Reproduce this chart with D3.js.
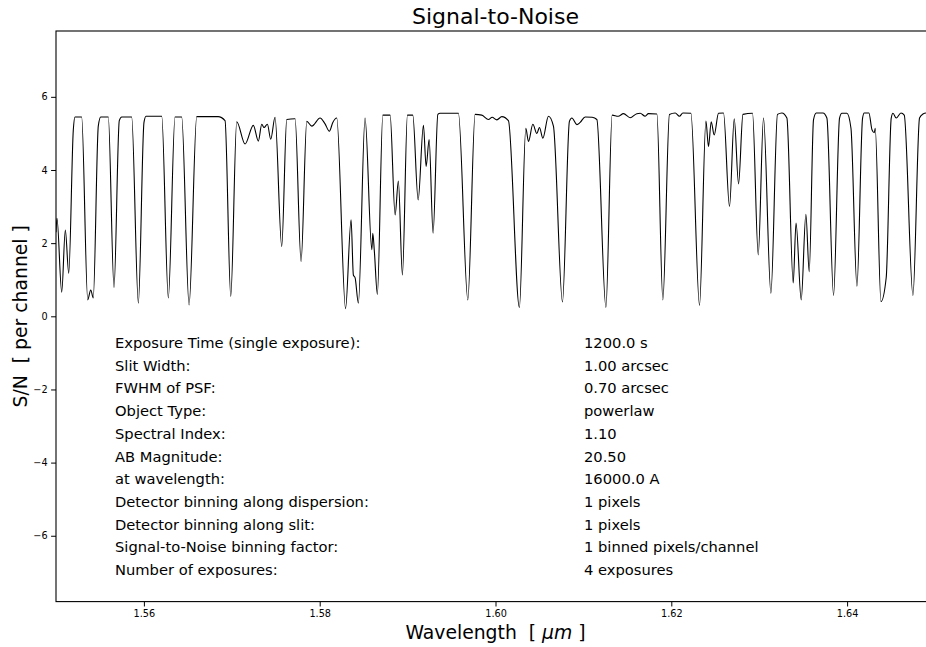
<!DOCTYPE html>
<html>
<head>
<meta charset="utf-8">
<script src="https://cdn.jsdelivr.net/npm/d3@7"></script>
<style>
  html, body { margin: 0; padding: 0; background: #fff; overflow: hidden; }
  svg { display: block; font-family: "DejaVu Sans", sans-serif; }
  text { white-space: pre; }
</style>
</head>
<body>
<svg id="chart" width="926" height="647"></svg>
<script>
// ---- data ----
const wavelength = [
  1.55000,1.55011,1.55065,1.55106,1.55145,1.55197,1.55216,1.55292,1.55361,1.55395,
  1.55424,1.55481,1.55509,1.55595,1.55660,1.55720,1.55748,1.55861,1.55937,1.56001,
  1.56024,1.56203,1.56278,1.56354,1.56430,1.56514,1.56601,1.56844,1.56923,1.56988,
  1.57056,1.57151,1.57245,1.57302,1.57341,1.57367,1.57405,1.57443,1.57492,1.57568,
  1.57625,1.57720,1.57788,1.57853,1.57910,1.58004,1.58061,1.58110,1.58149,1.58194,
  1.58294,1.58357,1.58383,1.58403,1.58440,1.58516,1.58593,1.58604,1.58622,1.58656,
  1.58718,1.58801,1.58858,1.58895,1.58941,1.58998,1.59059,1.59120,1.59180,1.59211,
  1.59245,1.59290,1.59344,1.59370,1.59578,1.59685,1.59768,1.59844,1.59920,1.59962,
  1.60015,1.60072,1.60147,1.60272,1.60345,1.60375,1.60425,1.60470,1.60500,1.60539,
  1.60602,1.60659,1.60762,1.60841,1.60869,1.60926,1.60963,1.61020,1.61100,1.61153,
  1.61256,1.61327,1.61396,1.61456,1.61532,1.61608,1.61646,1.61703,1.61740,1.61836,
  1.61904,1.61979,1.62044,1.62093,1.62132,1.62223,1.62321,1.62394,1.62423,1.62454,
  1.62488,1.62537,1.62594,1.62662,1.62716,1.62765,1.62815,1.62924,1.62989,1.63049,
  1.63133,1.63208,1.63258,1.63315,1.63387,1.63419,1.63478,1.63531,1.63569,1.63618,
  1.63649,1.63725,1.63770,1.63846,1.63914,1.63941,1.63998,1.64044,1.64112,1.64176,
  1.64195,1.64248,1.64283,1.64309,1.64320,1.64385,1.64445,1.64502,1.64522,1.64559,
  1.64613,1.64650,1.64749,1.64824,1.64863,1.64900,1.65000
];
const snr = [
  2.30,2.68,0.66,2.36,1.18,5.10,5.45,5.45,0.45,0.72,
  0.50,5.20,5.45,5.45,0.79,5.35,5.45,5.45,0.36,5.30,
  5.47,5.47,0.50,5.45,5.45,0.31,5.46,5.46,5.35,0.54,
  5.32,4.71,5.22,4.79,5.25,5.16,5.25,4.84,5.44,1.91,
  5.38,5.40,1.50,5.33,5.20,5.42,5.26,5.06,5.30,5.42,
  0.21,2.64,1.13,1.05,0.36,5.42,1.82,2.27,1.77,0.60,
  5.50,5.50,2.77,3.70,1.13,5.50,5.50,3.18,5.22,4.10,
  4.83,2.27,5.52,5.55,5.55,0.45,5.52,5.50,5.38,5.44,
  5.37,5.46,5.35,0.24,5.14,4.78,5.25,5.00,5.16,4.87,
  5.47,5.20,0.39,5.33,5.42,5.24,5.30,5.45,5.44,5.38,
  0.24,5.50,5.47,5.54,5.43,5.54,5.55,5.47,5.54,5.53,
  0.45,5.52,5.56,5.47,5.56,5.55,0.30,5.34,4.64,5.32,
  4.96,5.55,5.56,3.00,5.40,3.62,5.52,5.55,1.68,5.42,
  0.63,5.52,5.56,5.42,0.91,2.55,0.45,2.79,1.22,5.38,
  5.56,5.56,5.42,0.57,5.42,5.55,5.55,5.14,0.82,5.42,
  5.56,5.56,5.10,5.02,5.14,0.40,1.06,5.42,5.55,5.42,
  5.56,5.50,0.57,5.42,5.53,5.56,5.50
];
const xTicks = [1.56, 1.58, 1.60, 1.62, 1.64];
const yTicks = [-6, -4, -2, 0, 2, 4, 6];
const infoLabels = [
  "Exposure Time (single exposure):", "Slit Width:", "FWHM of PSF:", "Object Type:",
  "Spectral Index:", "AB Magnitude:", "at wavelength:", "Detector binning along dispersion:",
  "Detector binning along slit:", "Signal-to-Noise binning factor:", "Number of exposures:"
];
const infoValues = [
  "1200.0 s", "1.00 arcsec", "0.70 arcsec", "powerlaw", "1.10", "20.50",
  "16000.0 A", "1 pixels", "1 pixels", "1 binned pixels/channel", "4 exposures"
];
const titleText = "Signal-to-Noise";
const xDomain = [1.55, 1.65];
const yDomain = [-7.8, 7.8];

// ---- layout ----
const L = 56, R = 935, T = 31, B = 601.6;
const svg = d3.select("#chart");
svg.append("rect").attr("width", 926).attr("height", 647).attr("fill", "#fff");

const x = d3.scaleLinear().domain(xDomain).range([L, R]);
const y = d3.scaleLinear().domain(yDomain).range([B, T]);

svg.append("clipPath").attr("id", "clip")
  .append("rect").attr("x", L).attr("y", T).attr("width", R - L).attr("height", B - T);

const pts = wavelength.map((w, i) => [w, snr[i]]);
const line = d3.line().x(d => x(d[0])).y(d => y(d[1])).curve(d3.curveMonotoneX);
svg.append("path").datum(pts)
  .attr("clip-path", "url(#clip)")
  .attr("d", line)
  .attr("fill", "none").attr("stroke", "#000").attr("stroke-width", 1.1)
  .attr("stroke-linejoin", "round");

// axes
const fmtX = d3.format(".2f");
const fmtY = d => (d < 0 ? "\u2212" + Math.abs(d) : String(d));
const xAxis = d3.axisBottom(x).tickValues(xTicks).tickFormat(fmtX).tickSize(4.9).tickPadding(3.5);
const yAxis = d3.axisLeft(y).tickValues(yTicks).tickFormat(fmtY).tickSize(4.9).tickPadding(3.5);
const gx = svg.append("g").attr("transform", `translate(0,${B})`).call(xAxis);
const gy = svg.append("g").attr("transform", `translate(${L},0)`).call(yAxis);
[gx, gy].forEach(g => {
  g.select(".domain").remove();
  g.selectAll(".tick line").attr("stroke", "#000").attr("stroke-width", 1);
  g.selectAll(".tick text").attr("fill", "#000").style("font-size", "9.7px")
    .style("font-family", "'DejaVu Sans', sans-serif");
});

// frame
svg.append("rect").attr("x", L).attr("y", T).attr("width", R - L).attr("height", B - T)
  .attr("fill", "none").attr("stroke", "#000").attr("stroke-width", 1.1);

// title and labels
svg.append("text").attr("x", (L + R) / 2).attr("y", 24).attr("text-anchor", "middle")
  .style("font-size", "22px").text(titleText);

const xl = svg.append("text").attr("x", (L + R) / 2).attr("y", 639).attr("text-anchor", "middle")
  .style("font-size", "18.8px");
xl.append("tspan").text("Wavelength  [ ");
xl.append("tspan").style("font-style", "italic").text("\u03bcm");
xl.append("tspan").text(" ]");

svg.append("text").attr("transform", `translate(27,${(T + B) / 2}) rotate(-90)`)
  .attr("text-anchor", "middle").style("font-size", "18.8px")
  .text("S/N  [ per channel ]");

// info block
const info = svg.append("g").style("font-size", "14.7px");
infoLabels.forEach((t, i) => {
  const yy = 348 + i * 22.7;
  info.append("text").attr("x", 115).attr("y", yy).text(t);
  info.append("text").attr("x", 584).attr("y", yy).text(infoValues[i]);
});
</script>
</body>
</html>
